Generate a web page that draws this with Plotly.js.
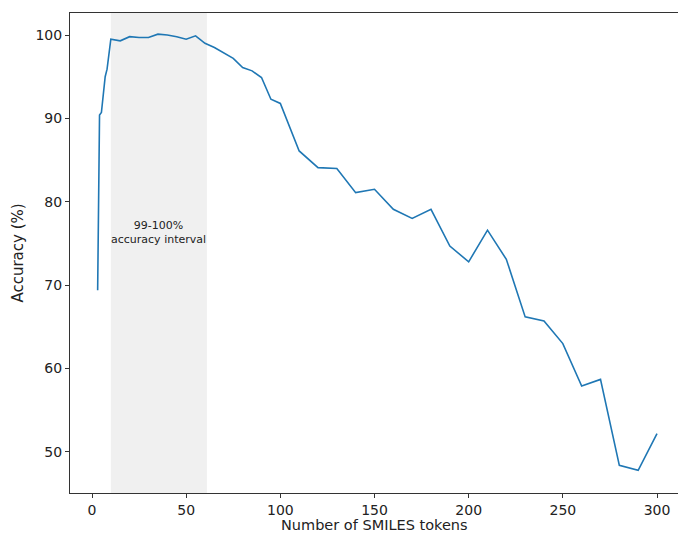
<!DOCTYPE html>
<html>
<head>
<meta charset="utf-8">
<script src="https://cdn.plot.ly/plotly-3.0.1.min.js"></script>
<style>html,body{margin:0;padding:0;background:#fff;overflow:hidden}</style>
</head>
<body>
<div id="chart" style="width:678px;height:534px"></div>
<script>
const tokens = [3,4,5,7,8,10,15,20,25,30,35,40,45,50,55,60,65,70,75,80,85,90,95,100,110,120,130,140,150,160,170,180,190,200,210,220,230,240,250,260,270,280,290,300];
const accuracy = [69.4,90.4,90.7,95.0,95.9,99.5,99.3,99.8,99.7,99.7,100.1,100.0,99.8,99.5,99.9,99.0,98.5,97.9,97.2,96.1,95.7,94.9,92.3,91.8,86.1,84.1,84.0,81.1,81.5,79.1,78.0,79.1,74.7,72.8,76.6,73.1,66.2,65.7,63.0,57.9,58.7,48.4,47.8,52.2];
const intervalStart = 10;
const intervalEnd = 61;
const intervalLabel = "99-100%<br>accuracy interval";
const xTitle = "Number of SMILES tokens";
const yTitle = "Accuracy (%)";
const xTicks = [0,50,100,150,200,250,300];
const yTicks = [50,60,70,80,90,100];

const font = "DejaVu Sans, sans-serif";
const trace = {
  x: tokens, y: accuracy, type: "scatter", mode: "lines",
  line: {color: "#1f77b4", width: 1.6},
  hoverinfo: "skip"
};
const layout = {
  width: 678, height: 534,
  margin: {l: 70, r: 0, t: 13, b: 41},
  paper_bgcolor: "#fff", plot_bgcolor: "#fff",
  showlegend: false,
  font: {family: font, color: "#222"},
  xaxis: {
    range: [-11.68, 311.15], tickvals: xTicks, ticktext: xTicks.map(String),
    showgrid: false, zeroline: false, showline: true, mirror: true, automargin: false,
    linecolor: "#333", linewidth: 1, ticks: "outside", ticklen: 4, tickcolor: "#333",
    tickfont: {family: font, size: 14, color: "#222"}
  },
  yaxis: {
    range: [45.08, 102.64], tickvals: yTicks, ticktext: yTicks.map(String),
    showgrid: false, zeroline: false, showline: true, mirror: false, automargin: false,
    linecolor: "#333", linewidth: 1, ticks: "outside", ticklen: 4, tickcolor: "#333",
    tickfont: {family: font, size: 14, color: "#222"},
    title: {text: yTitle, font: {family: font, size: 15, color: "#222"}, standoff: 8}
  },
  shapes: [{
    type: "rect", xref: "x", yref: "paper", x0: intervalStart, x1: intervalEnd, y0: 0, y1: 1,
    fillcolor: "#f0f0f0", line: {width: 0}, layer: "below"
  }],
  annotations: [{
    x: (intervalStart + intervalEnd) / 2, y: 76.3, xref: "x", yref: "y",
    text: intervalLabel, showarrow: false,
    font: {family: font, size: 11, color: "#222"}, align: "center"
  }, {
    x: 150, y: -0.0667, xref: "x", yref: "paper", yanchor: "middle",
    text: xTitle, showarrow: false, borderpad: 0,
    font: {family: font, size: 14.5, color: "#222"}
  }]
};
Plotly.newPlot("chart", [trace], layout, {displayModeBar: false, staticPlot: true});
</script>
</body>
</html>
